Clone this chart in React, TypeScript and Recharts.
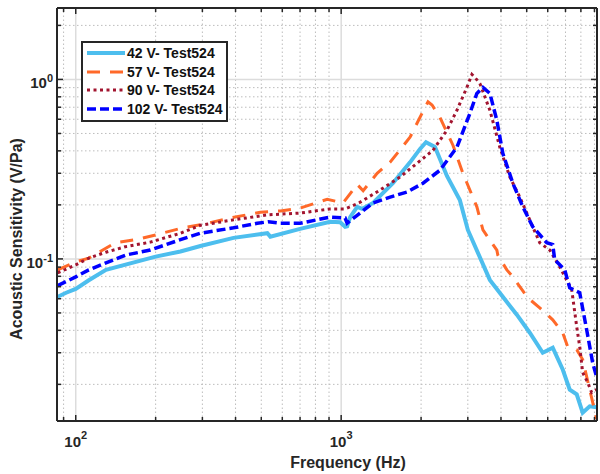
import { LineChart, Line, XAxis, YAxis, ReferenceLine, Legend } from "recharts";

// frequency (Hz), sensitivity (V/Pa)
const v42: [number, number][] = [
  [85.5, 0.0615], [92, 0.0648], [100, 0.068], [112, 0.076], [130, 0.087], [200, 0.103],
  [248, 0.11], [295, 0.118], [393, 0.131], [527, 0.139], [541, 0.133], [700, 0.147],
  [909, 0.161], [991, 0.16], [1035, 0.151], [1053, 0.152], [1081, 0.171], [1149, 0.195],
  [1200, 0.19], [1319, 0.205], [1569, 0.265], [1817, 0.345], [1982, 0.41], [2087, 0.447],
  [2256, 0.42], [2503, 0.29], [2799, 0.213], [3001, 0.145], [3631, 0.0764], [4064, 0.0615],
  [4589, 0.0489], [5135, 0.0388], [5746, 0.03], [6267, 0.032], [6834, 0.0242], [7262, 0.0187],
  [7716, 0.0176], [8125, 0.0139], [8634, 0.0151], [9172, 0.0149],
];

const v57: [number, number][] = [
  [85.5, 0.0869], [100, 0.0962], [112, 0.101], [141, 0.123], [168, 0.128], [200, 0.136],
  [253, 0.149], [308, 0.157], [382, 0.169], [496, 0.182], [590, 0.185], [700, 0.192],
  [886, 0.215], [1017, 0.205], [1149, 0.26], [1210, 0.24], [1366, 0.3], [1529, 0.346],
  [1817, 0.476], [2016, 0.647], [2124, 0.75], [2200, 0.72], [2356, 0.615], [2637, 0.43],
  [2874, 0.3], [3245, 0.195], [3420, 0.145], [3859, 0.112], [3892, 0.105], [4208, 0.0869],
  [4434, 0.0794], [5047, 0.0607], [5599, 0.0534], [6267, 0.0458], [6834, 0.0388],
  [7137, 0.0324], [7716, 0.0312], [8125, 0.0275], [8634, 0.0187], [9172, 0.0128],
];

const v90: [number, number][] = [
  [85.5, 0.0836], [100, 0.0926], [112, 0.101], [130, 0.109], [154, 0.117], [191, 0.124],
  [248, 0.139], [295, 0.154], [393, 0.165], [527, 0.176], [700, 0.18], [909, 0.19],
  [1035, 0.19], [1081, 0.195], [1179, 0.207], [1402, 0.242], [1667, 0.286], [1931, 0.341],
  [2218, 0.403], [2503, 0.521], [2730, 0.673], [2976, 0.903], [3108, 1.066], [3200, 1.02],
  [3331, 0.95], [3633, 0.673], [3960, 0.419], [4318, 0.286], [4710, 0.221], [5270, 0.151],
  [5599, 0.123], [6107, 0.112], [6659, 0.0903], [7389, 0.0673], [7716, 0.0419],
  [7919, 0.0324], [8125, 0.0233], [8485, 0.0205], [8783, 0.018], [9172, 0.0187],
];

const v102: [number, number][] = [
  [85.5, 0.071], [100, 0.0794], [112, 0.0869], [130, 0.095], [154, 0.105], [191, 0.112],
  [248, 0.128], [295, 0.139], [393, 0.149], [483, 0.158], [531, 0.161], [590, 0.158],
  [700, 0.158], [909, 0.171], [1035, 0.169], [1053, 0.158], [1179, 0.18], [1319, 0.205],
  [1529, 0.221], [1771, 0.236], [2034, 0.264], [2356, 0.312], [2730, 0.419], [3055, 0.647],
  [3245, 0.836], [3420, 0.903], [3633, 0.836], [3859, 0.592], [4064, 0.388], [4434, 0.264],
  [4834, 0.195], [5270, 0.151], [5950, 0.123], [6267, 0.12], [6376, 0.099], [6954, 0.0869],
  [7262, 0.069], [7919, 0.0648], [8412, 0.0403], [8860, 0.0264], [9172, 0.022],
];

const xMajor = [100, 1000];
const xMinor = [90, 200, 300, 400, 500, 600, 700, 800, 900, 2000, 3000, 4000, 5000, 6000, 7000, 8000, 9000];
const yMajor = [0.1, 1];
const yMinor = [0.02, 0.03, 0.04, 0.05, 0.06, 0.07, 0.08, 0.09, 0.2, 0.3, 0.4, 0.5, 0.6, 0.7, 0.8, 0.9, 2];

const xTicks = [...xMinor, ...xMajor].sort((a, b) => a - b);
const yTicks = [...yMinor, ...yMajor].sort((a, b) => a - b);

const series = [
  { name: "42 V- Test524", data: v42, color: "#4DBEEE", width: 4, dash: undefined as string | undefined },
  { name: "57 V- Test524", data: v57, color: "#FF6929", width: 3, dash: "13 10" },
  { name: "90 V- Test524", data: v90, color: "#A2142F", width: 3, dash: "3 3.5" },
  { name: "102 V- Test524", data: v102, color: "#0000FF", width: 3.5, dash: "9 4" },
];

const font = "'Liberation Sans', Arial, Helvetica, sans-serif";
const axisColor = "#262626";

const toRows = (d: [number, number][]) => d.map(([f, v]) => ({ f, v }));

function BottomTick({ x, y, payload }: any) {
  const major = xMajor.includes(payload.value);
  const exp = Math.round(Math.log10(payload.value));
  return (
    <g>
      <line x1={x} y1={y} x2={x} y2={y - (major ? 6 : 4)} stroke={axisColor} strokeWidth={1.5} />
      {major && (
        <text x={x} y={y + 26} textAnchor="middle" fontFamily={font} fontWeight="bold" fontSize={15} fill={axisColor}>
          10<tspan dy={-8} fontSize={11}>{exp}</tspan>
        </text>
      )}
    </g>
  );
}

function TopTick({ x, y, payload }: any) {
  const major = xMajor.includes(payload.value);
  return <line x1={x} y1={y} x2={x} y2={y + (major ? 6 : 4)} stroke={axisColor} strokeWidth={1.5} />;
}

function LeftTick({ x, y, payload }: any) {
  const major = yMajor.includes(payload.value);
  const exp = Math.round(Math.log10(payload.value));
  return (
    <g>
      <line x1={x} y1={y} x2={x + (major ? 6 : 4)} y2={y} stroke={axisColor} strokeWidth={1.5} />
      {major && (
        <text x={x - 4} y={y + 9} textAnchor="end" fontFamily={font} fontWeight="bold" fontSize={15} fill={axisColor}>
          10<tspan dy={-6} fontSize={11}>{exp}</tspan>
        </text>
      )}
    </g>
  );
}

function RightTick({ x, y, payload }: any) {
  const major = yMajor.includes(payload.value);
  return <line x1={x} y1={y} x2={x - (major ? 6 : 4)} y2={y} stroke={axisColor} strokeWidth={1.5} />;
}

function LegendBox() {
  return (
    <div
      style={{
        border: `2px solid ${axisColor}`,
        background: "#fff",
        padding: "1px 4px 2px 4px",
        fontFamily: font,
        fontWeight: "bold",
        fontSize: 14,
        color: "#111",
      }}
    >
      {series.map((s) => (
        <div key={s.name} style={{ display: "flex", alignItems: "center", height: 18.5 }}>
          <svg width={38} height={10} style={{ marginRight: 2 }}>
            <line x1={0} y1={5} x2={38} y2={5} stroke={s.color} strokeWidth={s.width} strokeDasharray={s.dash} />
          </svg>
          <span style={{ whiteSpace: "nowrap" }}>{s.name}</span>
        </div>
      ))}
    </div>
  );
}

export default function App() {
  return (
    <div style={{ position: "absolute", left: 0, top: 0, width: 600, height: 474, background: "#fff" }}>
      <LineChart width={600} height={474} margin={{ top: 0, right: 0, bottom: 0, left: 0 }}>
        <XAxis
          dataKey="f"
          type="number"
          scale="log"
          domain={[85, 9200]}
          allowDataOverflow
          ticks={xTicks}
          interval={0}
          height={53}
          tickSize={0}
          tickMargin={0}
          tick={<BottomTick />}
          axisLine={{ stroke: axisColor, strokeWidth: 2 }}
          label={(props: any) => {
            const vb = props.viewBox;
            return (
              <text x={vb.x + vb.width / 2 + 21} y={vb.y + 47} textAnchor="middle" fontFamily={font} fontWeight="bold" fontSize={16} fill={axisColor}>
                Frequency (Hz)
              </text>
            );
          }}
        />
        <XAxis
          xAxisId="top"
          orientation="top"
          dataKey="f"
          type="number"
          scale="log"
          domain={[85, 9200]}
          allowDataOverflow
          ticks={xTicks}
          interval={0}
          height={8}
          tickSize={0}
          tickMargin={0}
          tick={<TopTick />}
          axisLine={{ stroke: axisColor, strokeWidth: 2 }}
        />
        <YAxis
          dataKey="v"
          type="number"
          scale="log"
          domain={[0.0125, 2.5]}
          allowDataOverflow
          ticks={yTicks}
          interval={0}
          width={57}
          tickSize={0}
          tickMargin={0}
          tick={<LeftTick />}
          axisLine={{ stroke: axisColor, strokeWidth: 2 }}
          label={() => (
            <text
              x={22}
              y={239}
              transform="rotate(-90 22 239)"
              textAnchor="middle"
              fontFamily={font}
              fontWeight="bold"
              fontSize={16}
              fill={axisColor}
            >
              Acoustic Sensitivity (V/Pa)
            </text>
          )}
        />
        <YAxis
          yAxisId="right"
          orientation="right"
          dataKey="v"
          type="number"
          scale="log"
          domain={[0.0125, 2.5]}
          allowDataOverflow
          ticks={yTicks}
          interval={0}
          width={3}
          tickSize={0}
          tickMargin={0}
          tick={<RightTick />}
          axisLine={{ stroke: axisColor, strokeWidth: 2 }}
        />
        {xMinor.map((v) => (
          <ReferenceLine key={"xm" + v} x={v} stroke="#bdbdbd" strokeDasharray="1.5 2.5" strokeWidth={1} />
        ))}
        {yMinor.map((v) => (
          <ReferenceLine key={"ym" + v} y={v} stroke="#bdbdbd" strokeDasharray="1.5 2.5" strokeWidth={1} />
        ))}
        {xMajor.map((v) => (
          <ReferenceLine key={"xM" + v} x={v} stroke="#dcdcdc" strokeWidth={1.5} />
        ))}
        {yMajor.map((v) => (
          <ReferenceLine key={"yM" + v} y={v} stroke="#dcdcdc" strokeWidth={1.5} />
        ))}
        {series.map((s) => (
          <Line
            key={s.name}
            data={toRows(s.data)}
            dataKey="v"
            name={s.name}
            type="linear"
            stroke={s.color}
            strokeWidth={s.width}
            strokeDasharray={s.dash}
            dot={false}
            activeDot={false}
            isAnimationActive={false}
          />
        ))}
        <Legend
          layout="vertical"
          align="center"
          verticalAlign="middle"
          content={<LegendBox />}
          wrapperStyle={{ position: "absolute", left: 81, top: 41, width: "auto", height: "auto" }}
        />
      </LineChart>
    </div>
  );
}
